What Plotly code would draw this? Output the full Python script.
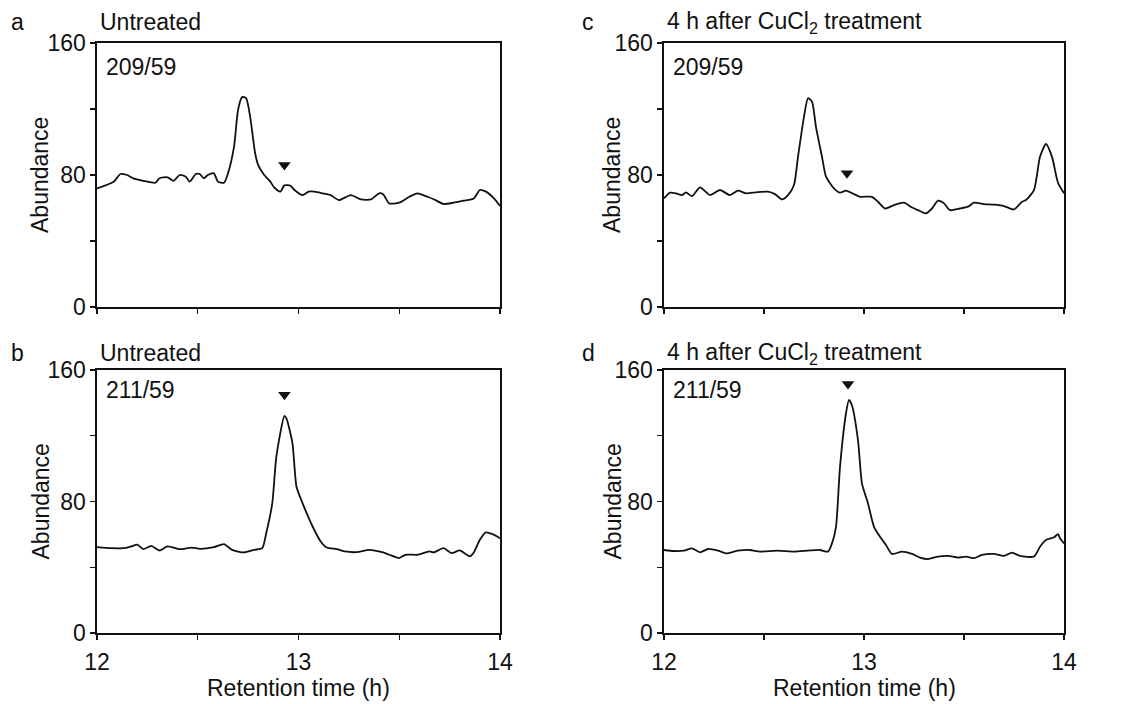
import plotly.graph_objects as go

W, H = 1122, 704

# ---------------- data ----------------
a_t = [12.0, 12.083, 12.116, 12.149, 12.18, 12.23, 12.29, 12.31, 12.35, 12.38, 12.41, 12.44, 12.46, 12.49,
       12.51, 12.53, 12.55, 12.58, 12.60, 12.63, 12.65, 12.68, 12.70, 12.72, 12.74, 12.76, 12.785, 12.80,
       12.83, 12.86, 12.88, 12.91, 12.93, 12.96, 12.98, 13.02, 13.05, 13.08, 13.12, 13.16, 13.20, 13.26,
       13.31, 13.36, 13.40, 13.42, 13.45, 13.50, 13.55, 13.59, 13.64, 13.68, 13.72, 13.77, 13.82, 13.87,
       13.90, 13.93, 13.97, 14.0]
a_y = [71.9, 75.9, 80.6, 80.0, 78.0, 76.5, 75.3, 78.0, 78.6, 76.5, 80.0, 79.0, 76.0, 80.6,
       80.6, 78.0, 80.0, 81.0, 76.0, 75.3, 81.0, 97.0, 119.5, 127.2, 126.6, 115.4, 93.0, 86.0,
       80.0, 76.0, 72.3, 69.9, 73.7, 73.5, 70.9, 67.8, 69.9, 69.9, 68.9, 67.8, 64.8, 67.8,
       65.2, 65.2, 68.9, 68.4, 62.8, 63.2, 66.8, 68.9, 66.8, 64.8, 62.4, 63.2, 64.4, 65.8,
       70.9, 69.9, 65.8, 61.2]

c_t = [12.0, 12.03, 12.06, 12.09, 12.11, 12.14, 12.18, 12.23, 12.28, 12.33, 12.37, 12.41, 12.46, 12.52,
       12.555, 12.59, 12.62, 12.65, 12.67, 12.70, 12.72, 12.74, 12.76, 12.79, 12.81, 12.85, 12.88, 12.91,
       12.95, 12.98, 13.04, 13.07, 13.105, 13.15, 13.20, 13.24, 13.27, 13.31, 13.34, 13.37, 13.40, 13.43,
       13.48, 13.52, 13.55, 13.60, 13.65, 13.70, 13.75, 13.79, 13.81, 13.85, 13.88, 13.91, 13.94, 13.97, 14.0]
c_y = [65.8, 69.3, 68.9, 67.8, 69.5, 67.2, 72.5, 67.8, 70.9, 67.8, 70.5, 68.9, 69.5, 69.9,
       68.4, 65.2, 67.8, 73.9, 91.0, 115.4, 126.6, 124.5, 109.0, 91.0, 79.0, 71.9, 69.3, 70.5,
       68.4, 66.8, 66.8, 63.8, 59.7, 61.8, 63.2, 60.3, 58.7, 56.7, 59.7, 64.4, 62.8, 58.7,
       59.7, 60.8, 63.2, 62.4, 62.0, 61.2, 59.1, 63.8, 64.8, 70.9, 91.0, 98.8, 91.0, 75.3, 68.9]

b_t = [12.0, 12.07, 12.13, 12.17, 12.2, 12.23, 12.27, 12.31, 12.35, 12.41, 12.47, 12.51, 12.58, 12.63,
       12.67, 12.73, 12.78, 12.82, 12.84, 12.87, 12.89, 12.93, 12.94, 12.97, 12.99, 13.02, 13.07, 13.11,
       13.14, 13.19, 13.23, 13.29, 13.35, 13.42, 13.45, 13.50, 13.53, 13.59, 13.65, 13.67, 13.72, 13.76,
       13.80, 13.85, 13.87, 13.90, 13.93, 13.96, 14.0]
b_y = [52.2, 51.6, 51.6, 52.7, 53.7, 51.0, 53.0, 50.2, 52.7, 51.0, 52.0, 51.2, 52.2, 54.1,
       50.6, 49.0, 50.6, 51.6, 60.8, 79.0, 107.3, 132.0, 130.6, 115.4, 89.0, 79.0, 64.8, 55.7,
       52.0, 51.0, 49.6, 49.2, 50.6, 49.0, 47.6, 45.6, 47.6, 47.6, 49.6, 49.0, 51.6, 48.6,
       50.2, 46.6, 49.0, 56.7, 61.2, 60.3, 57.7]

d_t = [12.0, 12.05, 12.10, 12.14, 12.18, 12.22, 12.27, 12.31, 12.37, 12.43, 12.48, 12.57, 12.65, 12.72,
       12.78, 12.82, 12.84, 12.86, 12.88, 12.91, 12.925, 12.94, 12.97, 12.99, 13.02, 13.05, 13.08, 13.11,
       13.14, 13.19, 13.24, 13.28, 13.32, 13.37, 13.42, 13.47, 13.51, 13.55, 13.59, 13.65, 13.70, 13.74,
       13.78, 13.85, 13.88, 13.91, 13.95, 13.97, 13.98, 14.0]
d_y = [50.5, 49.9, 50.1, 51.5, 49.1, 51.1, 50.1, 48.5, 50.1, 50.5, 49.5, 50.1, 49.5, 50.1,
       50.5, 49.5, 54.5, 64.6, 101.0, 133.7, 141.8, 138.4, 117.2, 90.9, 78.8, 64.6, 58.6, 53.5,
       48.1, 49.5, 48.1, 45.9, 45.0, 46.5, 46.9, 45.9, 46.5, 45.5, 47.5, 48.1, 46.9, 48.9,
       46.9, 46.5, 52.5, 56.6, 58.2, 60.2, 57.6, 54.5]

# arrowhead markers (x, y) for each panel
mark_a = (12.93, 86)
mark_c = (12.915, 81)
mark_b = (12.93, 145)
mark_d = (12.92, 151.5)

panel_letters = ["a", "b", "c", "d"]
panel_titles = ["Untreated", "Untreated", "4 h after CuCl<sub>2</sub> treatment", "4 h after CuCl<sub>2</sub> treatment"]
ion_labels = ["209/59", "211/59", "209/59", "211/59"]

y_tickvals = [0, 80, 160]
y_ticktext = ["0", "80", "160"]
y_minor_vals = [40, 120]
x_tickvals = [12, 13, 14]
x_ticktext = ["12", "13", "14"]
x_minor_vals = [12.5, 13.5]

x_title = "Retention time (h)"
y_title = "Abundance"

# ---------------- layout helpers ----------------
def px(x):
    return x / W

def py(y):
    return 1 - y / H

FONT = "Arial, Liberation Sans, sans-serif"
FS = 23
TXT = "#111111"

panels = [
    ("a", 97, 500, 43, 307),
    ("b", 97, 500, 370, 633),
    ("c", 664, 1064, 43, 307),
    ("d", 664, 1064, 370, 633),
]
series = {"a": (a_t, a_y, mark_a), "b": (b_t, b_y, mark_b), "c": (c_t, c_y, mark_c), "d": (d_t, d_y, mark_d)}

fig = go.Figure()
layout = dict(width=W, height=H, margin=dict(l=0, r=0, t=0, b=0, pad=0, autoexpand=False),
              paper_bgcolor="white", plot_bgcolor="white", showlegend=False,
              font=dict(family=FONT, size=FS, color=TXT))
annotations = []

for i, (name, l, r, t, b) in enumerate(panels):
    xa = "xaxis" if i == 0 else f"xaxis{i+1}"
    ya = "yaxis" if i == 0 else f"yaxis{i+1}"
    xr = "x" if i == 0 else f"x{i+1}"
    yr = "y" if i == 0 else f"y{i+1}"
    bottom_row = name in ("b", "d")
    layout[xa] = dict(domain=[px(l), px(r)], range=[12, 14], anchor=yr, automargin=False,
                      showline=True, mirror=True, linecolor="#111111", linewidth=1.6,
                      ticks="outside", ticklen=5, tickwidth=1.4, tickcolor="#111111",
                      ticklabelstandoff=3,
                      tickvals=x_tickvals, ticktext=x_ticktext, showticklabels=bottom_row,
                      minor=dict(tickvals=x_minor_vals, ticks="outside", ticklen=5, tickwidth=1.4,
                                 tickcolor="#111111", showgrid=False),
                      showgrid=False, zeroline=False, fixedrange=True,
                      tickfont=dict(size=FS, family=FONT, color=TXT))
    layout[ya] = dict(domain=[py(b), py(t)], range=[0, 160], anchor=xr, automargin=False,
                      showline=True, mirror=True, linecolor="#111111", linewidth=1.6,
                      ticks="outside", ticklen=5, tickwidth=1.4, tickcolor="#111111",
                      tickvals=y_tickvals, ticktext=y_ticktext,
                      minor=dict(tickvals=y_minor_vals, ticks="outside", ticklen=5, tickwidth=1.4,
                                 tickcolor="#111111", showgrid=False),
                      showgrid=False, zeroline=False, fixedrange=True,
                      tickfont=dict(size=FS, family=FONT, color=TXT))
    tx, ty, mk = series[name]
    fig.add_trace(go.Scatter(x=tx, y=ty, mode="lines", xaxis=xr, yaxis=yr,
                             line=dict(color="#111111", width=1.8, shape="spline", smoothing=0.6),
                             hoverinfo="skip"))
    fig.add_trace(go.Scatter(x=[mk[0]], y=[mk[1]], mode="markers", xaxis=xr, yaxis=yr,
                             marker=dict(symbol="triangle-down", size=11, color="#111111"),
                             hoverinfo="skip"))

    letter_x = 17 if l < 300 else 588
    title_y = 22 if t < 100 else 353
    ion_y = 67 if t < 100 else 390
    idx = panel_letters.index(name)
    annotations.append(dict(text=name, x=px(letter_x), y=py(title_y), xref="paper", yref="paper",
                            showarrow=False, xanchor="center", yanchor="middle",
                            font=dict(size=FS, family=FONT, color=TXT)))
    annotations.append(dict(text=panel_titles[idx], x=px(l + 1), y=py(title_y), xref="paper", yref="paper",
                            showarrow=False, xanchor="left", yanchor="middle",
                            font=dict(size=FS, family=FONT, color=TXT)))
    annotations.append(dict(text=ion_labels[idx], x=px(l + 7), y=py(ion_y), xref="paper", yref="paper",
                            showarrow=False, xanchor="left", yanchor="middle",
                            font=dict(size=FS, family=FONT, color=TXT)))
    ylab_x = 40 if l < 300 else 612
    annotations.append(dict(text=y_title, x=px(ylab_x), y=py((t + b) / 2), xref="paper", yref="paper",
                            showarrow=False, xanchor="center", yanchor="middle", textangle=-90,
                            font=dict(size=FS, family=FONT, color=TXT)))
    if bottom_row:
        annotations.append(dict(text=x_title, x=px((l + r) / 2), y=py(688), xref="paper", yref="paper",
                                showarrow=False, xanchor="center", yanchor="middle",
                                font=dict(size=FS, family=FONT, color=TXT)))

layout["annotations"] = annotations
fig.update_layout(**layout)
fig.write_html(
    "out.html",
    config={"displayModeBar": False, "staticPlot": True},
    post_script="document.body.style.margin='0';document.body.style.padding='0';"
                "document.body.style.overflow='hidden';",
)
